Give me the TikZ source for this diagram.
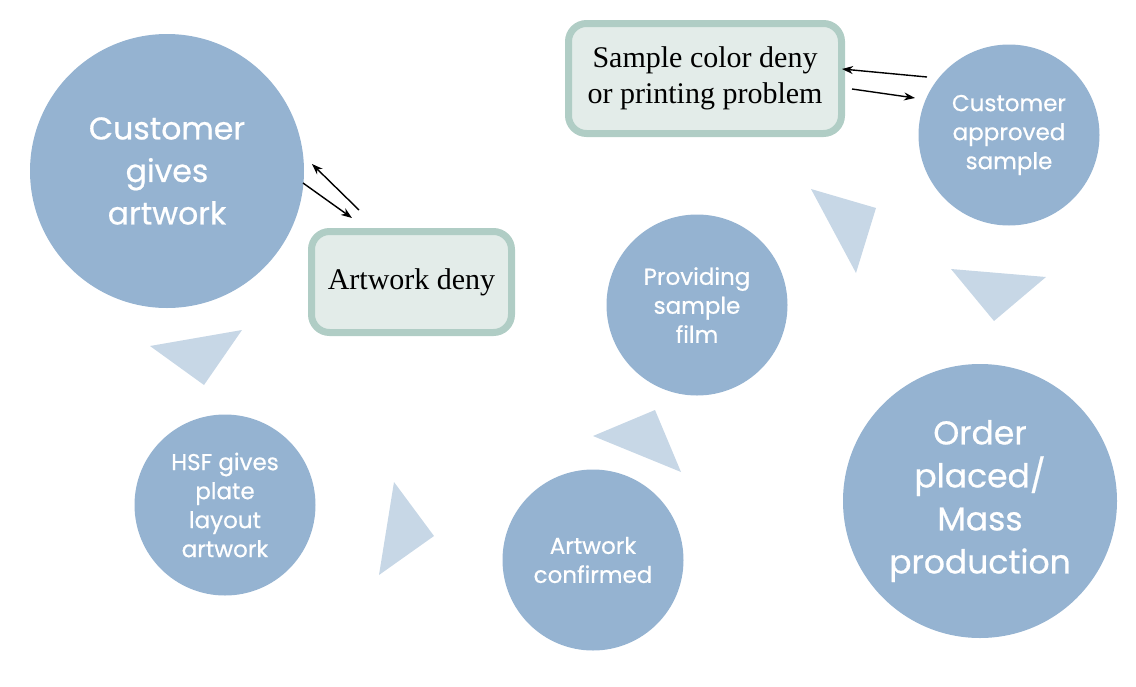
\documentclass[tikz,border=0pt]{standalone}
\usepackage{fontspec}
\setmainfont{Liberation Serif}
\newfontfamily\circfont[FakeBold=0.6]{Poppins}
\usetikzlibrary{arrows.meta}
\definecolor{circfill}{HTML}{95B3D1}
\definecolor{trifill}{HTML}{C7D7E6}
\definecolor{boxborder}{HTML}{B0CDC5}
\definecolor{boxfill}{HTML}{E3ECE9}
\tikzset{
  stage/.style={circle,fill=circfill,text=white,align=center,inner sep=0pt,font=\circfont},
  bigstage/.style={stage,minimum size=274pt},
  smallstage/.style={stage,minimum size=181pt,font=\circfont\fontsize{23}{29}\selectfont},
  denybox/.style={draw=boxborder,line width=7pt,fill=boxfill,rounded corners=18pt,align=center,font=\fontsize{30}{36}\selectfont},
  tri/.style={fill=trifill,draw=none},
  flow/.style={-{Stealth[length=11pt,width=8pt]},line width=1.4pt,black}
}
\begin{document}
\begin{tikzpicture}[x=1pt,y=-1pt]
\useasboundingbox (0,0) rectangle (1136,686);
% triangles
\fill[tri] (150,346) -- (242,330) -- (204,385) -- cycle;
\fill[tri] (394,482) -- (434,536) -- (379,575) -- cycle;
\fill[tri] (593,436) -- (655,410) -- (681,472) -- cycle;
\fill[tri] (811,189) -- (876,208) -- (856,273) -- cycle;
\fill[tri] (951,269) -- (1046,277) -- (994,321) -- cycle;
% circles
\node[bigstage,font=\circfont\fontsize{31.5}{42.5}\selectfont] (cust) at (167,171) {Customer\\gives\\artwork};
\node[smallstage] (hsf) at (225,505) {HSF gives\\plate\\layout\\artwork};
\node[smallstage] (conf) at (593,560) {Artwork\\confirmed};
\node[smallstage] (film) at (697,305) {Providing\\sample\\film};
\node[smallstage] (appr) at (1009,135) {Customer\\approved\\sample};
\node[bigstage,font=\circfont\fontsize{33}{43}\selectfont] (order) at (980,501) {Order\\placed/\\Mass\\production};
% boxes
\node[denybox,minimum width=200pt,minimum height=101pt] (adeny) at (411.5,282) {Artwork deny};
\node[denybox,minimum width=273pt,minimum height=110pt] (sdeny) at (705,78.5) {Sample color deny\\or printing problem};
% arrows
\coordinate (a1s) at (303,183); \coordinate (a1e) at (352,218);
\coordinate (a2s) at (359,210); \coordinate (a2e) at (312,164);
\coordinate (b1s) at (927,77);  \coordinate (b1e) at (842,69);
\coordinate (b2s) at (852,89);  \coordinate (b2e) at (915,98);
\draw[flow] (a1s) -- (a1e);
\draw[flow] (a2s) -- (a2e);
\draw[flow] (b1s) -- (b1e);
\draw[flow] (b2s) -- (b2e);
\end{tikzpicture}
\end{document}
